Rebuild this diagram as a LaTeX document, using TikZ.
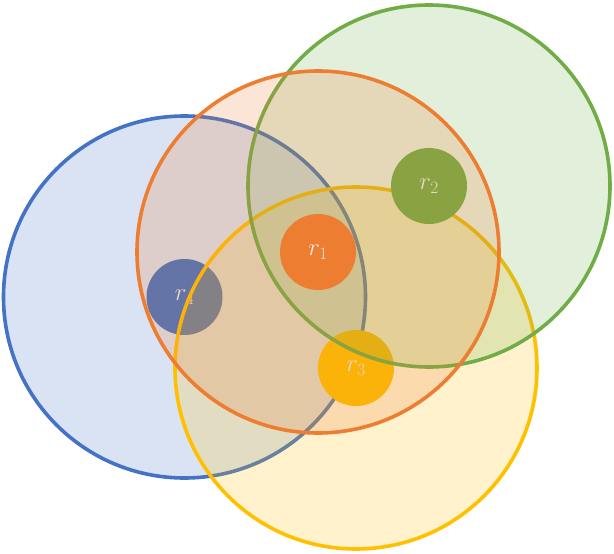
\documentclass[tikz,border=0pt]{standalone}
\definecolor{rblue}{HTML}{4472C4}
\definecolor{rorange}{HTML}{ED7D31}
\definecolor{rgreen}{HTML}{70AD47}
\definecolor{ryellow}{HTML}{FFC000}
\tikzset{
  zone/.style={line width=3.6pt,fill opacity=0.2},
  seed/.style={circle,minimum size=76pt,inner sep=0pt,text=white!92!black,font=\fontsize{27}{27}\selectfont}
}
\begin{document}
\begin{tikzpicture}[x=1pt,y=-1pt]
  \useasboundingbox (0,0) rectangle (614,554);
  \draw[zone,draw=rblue,fill=rblue] (184.5,297) circle (181pt);
  \node[seed,fill=rblue] (r4) at (184.5,297) {$r_4$};
  \draw[zone,draw=ryellow,fill=ryellow] (356,368) circle (181pt);
  \node[seed,fill=ryellow] (r3) at (356,368) {$r_3$};
  \draw[zone,draw=rgreen,fill=rgreen] (429,186) circle (181pt);
  \node[seed,fill=rgreen] (r2) at (429,186) {$r_2$};
  \draw[zone,draw=rorange,fill=rorange] (318,252) circle (181pt);
  \node[seed,fill=rorange] (r1) at (318,252) {$r_1$};
\end{tikzpicture}
\end{document}
